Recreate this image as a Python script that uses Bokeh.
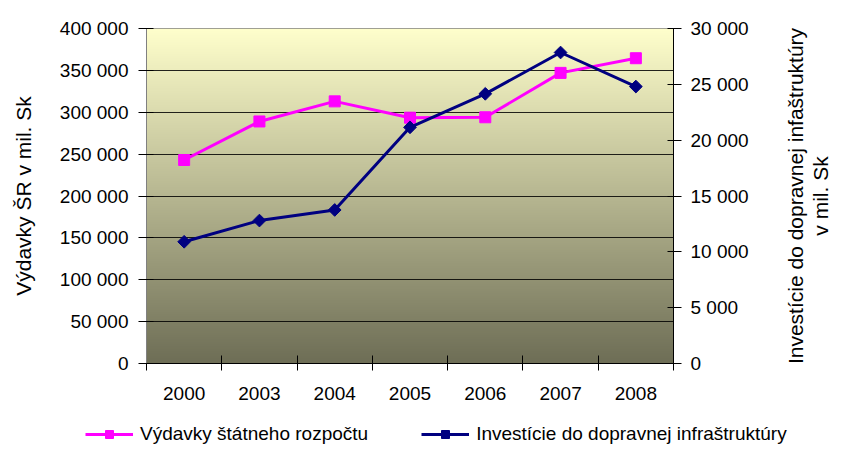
import numpy as np
from bokeh.plotting import figure
from bokeh.layouts import column, row
from bokeh.models import Range1d, LinearAxis, FixedTicker, Legend, LegendItem, Title
from bokeh.embed import file_html
from bokeh.resources import INLINE

# ---- data ----
years = ["2000", "2003", "2004", "2005", "2006", "2007", "2008"]
budget = [243000, 289000, 313000, 293500, 294000, 347000, 364500]   # left axis
invest = [10900, 12800, 13750, 21150, 24150, 27850, 24800]          # right axis
left_ticks = [0, 50000, 100000, 150000, 200000, 250000, 300000, 350000, 400000]
right_ticks = [0, 5000, 10000, 15000, 20000, 25000, 30000]
budget_name = "Výdavky štátneho rozpočtu"
invest_name = "Investície do dopravnej infraštruktúry"
left_title = "Výdavky ŠR v mil. Sk"
right_title_lines = ["Investície do dopravnej infaštruktúry", "v mil. Sk"]

FONT = "Liberation Sans"
PINK = "#FF00FF"
NAVY = "#000080"

def fmt(v):
    return f"{v:,}".replace(",", " ")

n = len(years)
xc = list(np.arange(n) + 0.5)
bounds = list(range(n + 1))

W = 833
H1 = 422
H2 = 26
WR = 52          # strip holding the right-hand title
WP = W - WR

p = figure(width=WP, height=H1, output_backend="svg", toolbar_location=None,
           x_range=Range1d(0, n), y_range=Range1d(0, left_ticks[-1]),
           min_border_left=146, min_border_right=WP - 673, min_border_top=28,
           min_border_bottom=H1 - 363)
p.extra_y_ranges = {"inv": Range1d(0, right_ticks[-1])}
p.outline_line_color = "#808080"
p.border_fill_color = "white"
p.background_fill_color = "white"

# gradient background of the plot area
rows = 335
t = np.linspace(0.0, 1.0, rows)[:, None]
top = np.array([255, 255, 204], dtype=float)
bot = np.array([110, 110, 86], dtype=float)
cols = (bot + (top - bot) * t).astype(np.uint32)
img = np.empty((rows, 2), dtype=np.uint32)
img[:, :] = cols[:, 0:1] | (cols[:, 1:2] << 8) | (cols[:, 2:3] << 16) | (255 << 24)
p.image_rgba(image=[img], x=0, y=0, dw=n, dh=left_ticks[-1], level="image")

# grid
p.xgrid.visible = False
p.ygrid.ticker = FixedTicker(ticks=left_ticks)
p.ygrid.grid_line_color = "#000000"
p.ygrid.grid_line_alpha = 0.85
p.ygrid.grid_line_width = 1

# x axis: labels at centers, ticks at category boundaries (minor ticks)
xa = p.xaxis[0]
xa.ticker = FixedTicker(ticks=xc, minor_ticks=bounds)
xa.major_label_overrides = {v: lab for v, lab in zip(xc, years)}
xa.major_tick_in = 0
xa.major_tick_out = 0
xa.major_tick_line_color = None
xa.minor_tick_in = 8
xa.minor_tick_out = 7
xa.minor_tick_line_color = "#000000"
xa.axis_line_color = "#000000"
xa.major_label_standoff = 16
xa.major_label_text_font = FONT
xa.major_label_text_font_size = "19px"
xa.major_label_text_color = "#000000"

# left axis
ya = p.yaxis[0]
ya.ticker = FixedTicker(ticks=left_ticks)
ya.major_label_overrides = {v: fmt(v) for v in left_ticks}
ya.minor_tick_line_color = None
ya.major_tick_in = 7
ya.major_tick_out = 8
ya.major_tick_line_color = "#000000"
ya.axis_line_color = "#808080"
ya.major_label_standoff = 10
ya.major_label_text_font = FONT
ya.major_label_text_font_size = "19px"
ya.major_label_text_color = "#000000"
ya.axis_label = left_title
ya.axis_label_text_font = FONT
ya.axis_label_text_font_size = "21px"
ya.axis_label_text_font_style = "normal"
ya.axis_label_text_color = "#000000"
ya.axis_label_standoff = 22

# right axis
ra = LinearAxis(y_range_name="inv", ticker=FixedTicker(ticks=right_ticks))
ra.major_label_overrides = {v: fmt(v) for v in right_ticks}
ra.minor_tick_line_color = None
ra.major_tick_in = 6
ra.major_tick_out = 8
ra.major_tick_line_color = "#000000"
ra.axis_line_color = "#000000"
ra.major_label_standoff = 9
ra.major_label_text_font = FONT
ra.major_label_text_font_size = "19px"
ra.major_label_text_color = "#000000"
p.add_layout(ra, "right")

# series
p.line(xc, budget, line_color=PINK, line_width=3)
p.scatter(xc, budget, marker="square", size=11, fill_color=PINK, line_color=PINK)
p.line(xc, invest, line_color=NAVY, line_width=3, y_range_name="inv")
p.scatter(xc, invest, marker="square", angle=45, angle_units="deg", size=9,
          fill_color=NAVY, line_color=NAVY, y_range_name="inv")

# right-hand title: left-side Titles of a narrow strip (read bottom-to-top)
r = figure(width=WR, height=H1, output_backend="svg", toolbar_location=None,
           x_axis_location=None, y_axis_location=None,
           x_range=Range1d(0, 1), y_range=Range1d(0, 1),
           min_border=0, min_border_left=0, min_border_right=0,
           min_border_top=28, min_border_bottom=H1 - 363)
r.outline_line_color = None
r.xgrid.visible = False
r.ygrid.visible = False
r.border_fill_color = "white"
r.background_fill_color = "white"
for line_text in reversed(right_title_lines):
    r.add_layout(Title(text=line_text, align="center", standoff=0, offset=0,
                       text_font=FONT, text_font_size="21px",
                       text_font_style="normal", text_color="#000000"), "left")

# legend strip: legend inside the strip's frame; swatch renderers lie outside
# the strip's visible range, so only the legend itself shows
q = figure(width=W, height=H2, output_backend="svg", toolbar_location=None,
           x_axis_location=None, y_axis_location=None,
           x_range=Range1d(-3, -2), y_range=Range1d(-3, -2),
           min_border=0, min_border_left=0, min_border_right=0,
           min_border_top=0, min_border_bottom=0)
q.outline_line_color = None
q.xgrid.visible = False
q.ygrid.visible = False
q.border_fill_color = "white"
q.background_fill_color = "white"
ql1 = q.line(xc, budget, line_color=PINK, line_width=3)
qs1 = q.scatter(xc, budget, marker="square", size=11, fill_color=PINK, line_color=PINK)
ql2 = q.line(xc, invest, line_color=NAVY, line_width=3)
qs2 = q.scatter(xc, invest, marker="square", angle=45, angle_units="deg", size=9,
                fill_color=NAVY, line_color=NAVY)
legend = Legend(items=[LegendItem(label=budget_name, renderers=[ql1, qs1]),
                       LegendItem(label=invest_name, renderers=[ql2, qs2])],
                orientation="horizontal", location=(85, 3),
                border_line_color=None, background_fill_alpha=0,
                label_text_font=FONT, label_text_font_size="19px",
                label_text_color="#000000",
                glyph_width=48, glyph_height=20,
                label_standoff=7, spacing=53, padding=0, margin=0)
q.add_layout(legend, "center")

layout = column(row(p, r, spacing=0), q, spacing=0)
open("out.html", "w").write(file_html(layout, INLINE))
